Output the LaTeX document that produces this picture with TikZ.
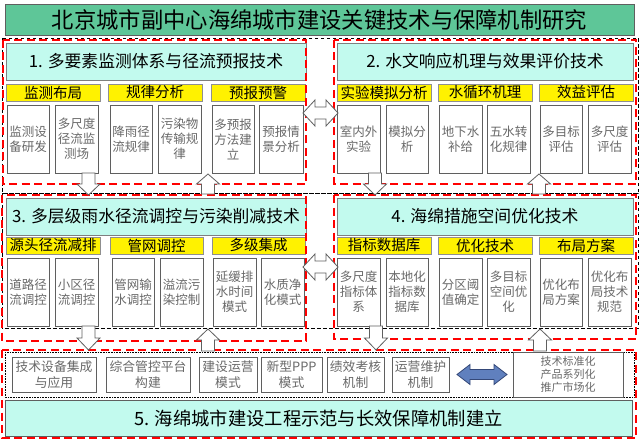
\documentclass[tikz,border=0pt]{standalone}
\usepackage{fontspec}
\setmainfont{Noto Sans CJK SC}
\definecolor{titlegreen}{RGB}{94,198,152}
\definecolor{headcyan}{RGB}{194,250,238}
\definecolor{bordergray}{RGB}{95,95,95}
\definecolor{txtgray}{RGB}{105,105,105}
\definecolor{arrowblue}{RGB}{96,128,190}
\definecolor{arrowdark}{RGB}{52,72,120}
\tikzset{
 base/.style={inner sep=0pt, outer sep=0pt, line width=0.8pt, align=center},
 titlebox/.style={base, fill=titlegreen, draw=bordergray, font=\fontsize{22.3}{26}\selectfont},
 headbox/.style={base, fill=headcyan, draw=bordergray!80, font=\fontsize{16.8}{20}\selectfont},
 ybar/.style={base, fill=yellow, draw=bordergray!70, font=\fontsize{14.5}{17}\selectfont},
 wbox/.style={base, fill=white, draw=bordergray, text=txtgray, font=\fontsize{12.5}{15}\selectfont},
 bbox/.style={base, fill=white, draw=bordergray, line width=1pt, text=txtgray, font=\fontsize{12.8}{15.5}\selectfont},
 sbox/.style={base, fill=white, draw=bordergray, line width=1pt, text=txtgray, font=\fontsize{11}{13}\selectfont},
 fivebox/.style={base, fill=headcyan, draw=bordergray, font=\fontsize{18.3}{22}\selectfont},
 reddash/.style={draw=red, line width=2.2pt, dash pattern=on 8pt off 4.5pt},
 blackdash/.style={draw=black, line width=0.6pt, dash pattern=on 3.5pt off 2.5pt},
 dotbox/.style={draw=black, line width=0.6pt, densely dotted},
 hollow/.style={draw=bordergray, fill=white, line width=0.8pt, line join=miter},
 bluearrow/.style={draw=arrowdark, fill=arrowblue, line width=0.8pt, line join=miter},
}
\newcommand\bx[7]{\node[#6, minimum width={#4-#2}, minimum height={#5-#3}] (#1) at ({(#2+#4)/2},{(#3+#5)/2}) {#7};}
\newcommand\vblk[4]{\draw[hollow] (#1-6.5,#2) -- (#1+6.5,#2) -- (#1+6.5,#3) -- (#1+11.5,#3) -- (#1,#4) -- (#1-11.5,#3) -- (#1-6.5,#3) -- cycle;}
\newcommand\hdbl[7]{\draw[#7] (#2,#1) -- (#2+#4,#1-#5) -- (#2+#4,#1-#6) -- (#3-#4,#1-#6) -- (#3-#4,#1-#5) -- (#3,#1) -- (#3-#4,#1+#5) -- (#3-#4,#1+#6) -- (#2+#4,#1+#6) -- (#2+#4,#1+#5) -- cycle;}
\begin{document}
\begin{tikzpicture}[x=1pt,y=-1pt]
\useasboundingbox (0,0) rectangle (640,441);
% row frames
\draw[blackdash] (2,38) rectangle (638,193);
\draw[blackdash] (2,193) rectangle (638,328);
\draw[dotbox] (5,352) rectangle (634,397);
% title
\bx{title}{5}{4}{634}{35}{titlebox}{北京城市副中心海绵城市建设关键技术与保障机制研究}
% panel 1
\bx{h1}{6}{43}{306}{80}{headbox}{1. 多要素监测体系与径流预报技术}
\bx{y11}{6}{84}{100}{101}{ybar}{监测布局}
\bx{y12}{108}{84}{202}{101}{ybar}{规律分析}
\bx{y13}{211}{84}{305}{101}{ybar}{预报预警}
\bx{b11}{7}{105}{49}{173}{wbox}{监测设\\备研发}
\bx{b12}{55}{105}{98}{173}{wbox}{多尺度\\径流监\\测场}
\bx{b13}{110}{105}{152}{173}{wbox}{降雨径\\流规律}
\bx{b14}{158}{105}{201}{173}{wbox}{污染物\\传输规\\律}
\bx{b15}{212}{105}{254}{173}{wbox}{多预报\\方法建\\立}
\bx{b16}{259}{105}{303}{173}{wbox}{预报情\\景分析}
% panel 2
\bx{h2}{337}{43}{633}{80}{headbox}{2. 水文响应机理与效果评价技术}
\bx{y21}{337}{84}{431}{101}{ybar}{实验模拟分析}
\bx{y22}{438}{84}{532}{101}{ybar}{水循环机理}
\bx{y23}{539}{84}{633}{101}{ybar}{效益评估}
\bx{b21}{337}{105}{380}{173}{wbox}{室内外\\实验}
\bx{b22}{386}{105}{428}{173}{wbox}{模拟分\\析}
\bx{b23}{439}{105}{482}{173}{wbox}{地下水\\补给}
\bx{b24}{487}{105}{530}{173}{wbox}{五水转\\化规律}
\bx{b25}{540}{105}{582}{173}{wbox}{多目标\\评估}
\bx{b26}{588}{105}{631}{173}{wbox}{多尺度\\评估}
% panel 3
\bx{h3}{6}{198}{306}{235}{headbox}{3. 多层级雨水径流调控与污染削减技术}
\bx{y31}{6}{237}{100}{254}{ybar}{源头径流减排}
\bx{y32}{110}{237}{203}{254}{ybar}{管网调控}
\bx{y33}{212}{237}{305}{254}{ybar}{多级集成}
\bx{b31}{7}{258}{49}{326}{wbox}{道路径\\流调控}
\bx{b32}{55}{258}{98}{326}{wbox}{小区径\\流调控}
\bx{b33}{112}{258}{154}{326}{wbox}{管网输\\水调控}
\bx{b34}{160}{258}{203}{326}{wbox}{溢流污\\染控制}
\bx{b35}{213}{258}{256}{326}{wbox}{延缓排\\水时间\\模式}
\bx{b36}{261}{258}{304}{326}{wbox}{水质净\\化模式}
% panel 4
\bx{h4}{337}{198}{633}{235}{headbox}{4. 海绵措施空间优化技术}
\bx{y41}{337}{237}{431}{254}{ybar}{指标数据库}
\bx{y42}{438}{237}{532}{254}{ybar}{优化技术}
\bx{y43}{539}{237}{633}{254}{ybar}{布局方案}
\bx{b41}{337}{258}{380}{326}{wbox}{多尺度\\指标体\\系}
\bx{b42}{386}{258}{428}{326}{wbox}{本地化\\指标数\\据库}
\bx{b43}{439}{258}{482}{326}{wbox}{分区阈\\值确定}
\bx{b44}{487}{258}{530}{326}{wbox}{多目标\\空间优\\化}
\bx{b45}{540}{258}{582}{326}{wbox}{优化布\\局方案}
\bx{b46}{588}{258}{631}{326}{wbox}{优化布\\局技术\\规范}
% bottom row
\bx{c1}{12}{357}{96}{392}{bbox}{技术设备集成\\与应用}
\bx{c2}{106}{357}{190}{392}{bbox}{综合管控平台\\构建}
\bx{c3}{199}{357}{257}{392}{bbox}{建设运营\\模式}
\bx{c4}{261}{357}{322}{392}{bbox}{新型PPP\\模式}
\bx{c5}{327}{357}{384}{392}{bbox}{绩效考核\\机制}
\bx{c6}{392}{357}{449}{392}{bbox}{运营维护\\机制}
\bx{c7}{513}{352}{623}{397}{sbox}{技术标准化\\产品系列化\\推广市场化}
\bx{h5}{5}{400}{632}{436}{fivebox}{5. 海绵城市建设工程示范与长效保障机制建立}
% red panels
\draw[reddash] (3,40) rectangle (306,184);
\draw[reddash] (334,40) rectangle (636,184);
\draw[reddash] (2,195) rectangle (306,341);
\draw[reddash] (334,195) rectangle (636,339);
\draw[reddash] (2,350) rectangle (636,438);
% block arrows
\vblk{88.5}{173}{184}{195}
\vblk{208}{194}{184}{174}
\vblk{375}{173}{184}{195}
\vblk{539}{194}{184}{174}
\vblk{88.5}{326}{338}{350}
\vblk{208}{351}{340}{329}
\vblk{376}{326}{338}{350}
\vblk{540}{351}{340}{329}
\hdbl{113}{303}{338}{12}{13}{6}{hollow}
\hdbl{267}{303}{338}{12}{13}{6}{hollow}
\hdbl{374.5}{457}{507}{13}{10}{5}{bluearrow}
\end{tikzpicture}
\end{document}
